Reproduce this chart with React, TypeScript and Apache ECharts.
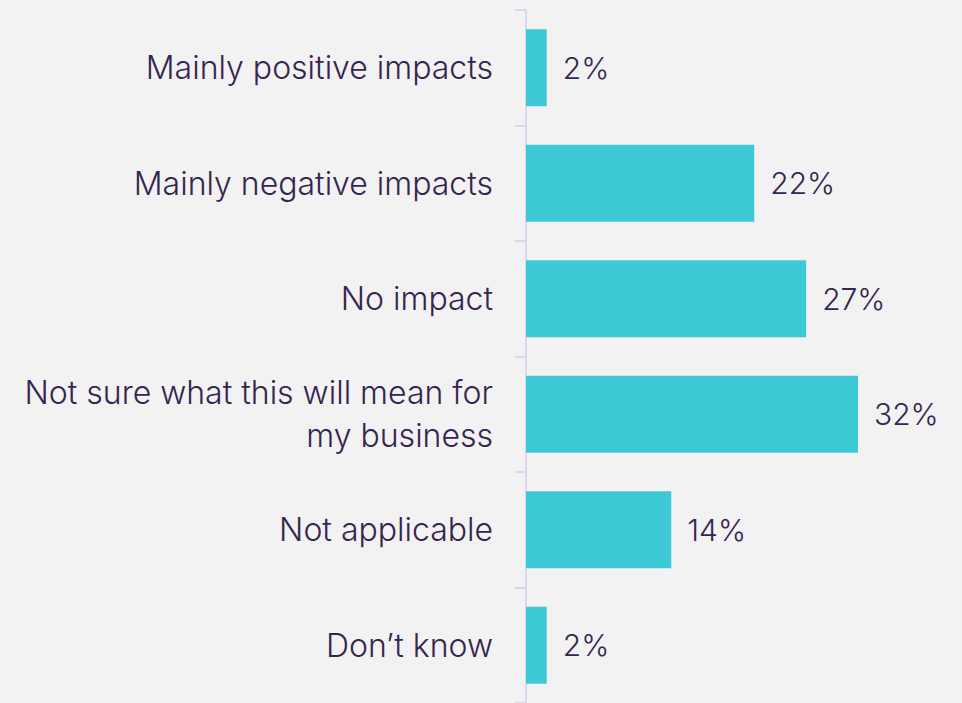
import React, { useEffect, useRef } from "react";
import * as echarts from "echarts";

const categories = [
  "Mainly positive impacts",
  "Mainly negative impacts",
  "No impact",
  "Not sure what this will mean for\nmy business",
  "Not applicable",
  "Don’t know",
];
const values = [2, 22, 27, 32, 14, 2];

export default function App() {
  const ref = useRef<HTMLDivElement>(null);
  useEffect(() => {
    if (!ref.current) return;
    const chart = echarts.init(ref.current, undefined, { renderer: "svg" });
    chart.setOption({
      animation: false,
      backgroundColor: "#f2f2f2",
      grid: { left: 526, top: 10, width: 415, height: 696, containLabel: false },
      xAxis: {
        type: "value",
        min: 0,
        max: 40,
        show: false,
      },
      yAxis: {
        type: "category",
        data: categories,
        inverse: true,
        axisLine: { show: true, lineStyle: { color: "#ddd6ec", width: 2 } },
        axisTick: { show: true, length: 11, lineStyle: { color: "#ddd6ec", width: 2 } },
        axisLabel: {
          margin: 33,
          fontFamily: "Inter",
          fontSize: 32,
          fontWeight: 300,
          color: "#35254f",
          lineHeight: 43,
          align: "right",
        },
      },
      series: [
        {
          type: "bar",
          data: values,
          barWidth: 77,
          itemStyle: { color: "#3cc9d5" },
          label: {
            show: true,
            position: "right",
            distance: 16,
            formatter: "{c}%",
            fontFamily: "Inter",
            fontSize: 30,
            fontWeight: 300,
            color: "#35254f",
          },
        },
      ],
    });
    return () => chart.dispose();
  }, []);
  return (
    <div
      ref={ref}
      style={{ position: "fixed", left: 0, top: 0, width: 962, height: 703 }}
    />
  );
}
